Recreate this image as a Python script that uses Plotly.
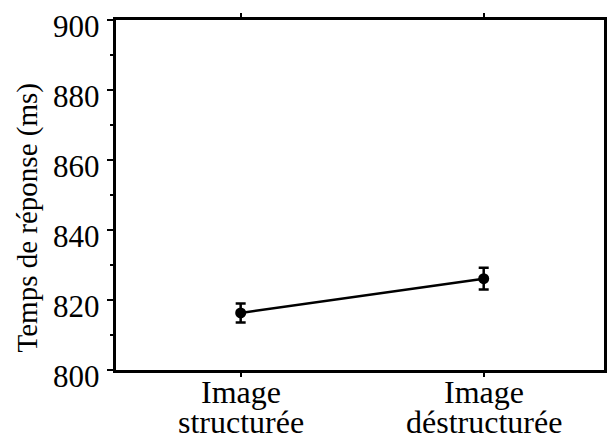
import plotly.graph_objects as go

# Mean response times per image condition, with error margins
conditions = ["Image structurée", "Image déstructurée"]
positions = [0, 1]
mean_rt = [816.3, 826.1]
err_rt = [2.7, 3.1]

y_ticks = [800, 820, 840, 860, 880, 900]
y_title = "Temps de réponse (ms)"

serif = "Liberation Serif"
ink = "black"

fig = go.Figure()
fig.add_trace(go.Scatter(
    x=positions,
    y=mean_rt,
    mode="lines+markers",
    line=dict(color=ink, width=2.5),
    marker=dict(color=ink, size=11, symbol="circle"),
    error_y=dict(type="data", array=err_rt, visible=True,
                 color=ink, thickness=2.5, width=5),
    showlegend=False,
))

# Category labels: two tightly spaced lines under each tick
for pos, label in zip(positions, conditions):
    first, second = label.split(" ", 1)
    for line_text, shift in ((first, -3), (second, -33)):
        fig.add_annotation(
            x=pos, xref="x", y=0, yref="paper",
            text=line_text, showarrow=False, borderpad=0,
            xanchor="center", yanchor="top", yshift=shift,
            font=dict(family=serif, size=32, color=ink),
        )

# Value labels along the left axis, set in the same serif face
for val in y_ticks:
    fig.add_annotation(
        x=0, xref="paper", y=val, yref="y",
        text=str(val), showarrow=False,
        xanchor="right", yanchor="middle", xshift=-14, yshift=-6,
        font=dict(family=serif, size=31, color=ink),
    )

# Axis title, rotated
fig.add_annotation(
    x=0, xref="paper", y=0.433, yref="paper",
    text=y_title, showarrow=False, textangle=-90,
    xanchor="center", yanchor="middle", xshift=-89,
    font=dict(family=serif, size=29, color=ink),
)

fig.update_layout(
    width=610,
    height=438,
    margin=dict(l=116, r=3, t=20, b=68),
    paper_bgcolor="white",
    plot_bgcolor="white",
    font=dict(family=serif, color=ink, size=30),
)

fig.update_xaxes(
    range=[-0.513, 1.495],
    tickvals=positions,
    showticklabels=False,
    showgrid=False,
    zeroline=False,
    showline=True,
    linecolor=ink,
    linewidth=2.5,
    mirror="ticks",
    ticks="outside",
    ticklen=4,
    tickwidth=2,
    tickcolor=ink,
)

fig.update_yaxes(
    range=[800, 900],
    tickvals=y_ticks,
    showticklabels=False,
    showgrid=False,
    zeroline=False,
    showline=True,
    linecolor=ink,
    linewidth=2.5,
    mirror=True,
    ticks="outside",
    ticklen=6,
    tickwidth=2,
    tickcolor=ink,
    minor=dict(dtick=10, ticks="outside", ticklen=3, tickwidth=2, tickcolor=ink),
)

fig.write_html("out.html")
